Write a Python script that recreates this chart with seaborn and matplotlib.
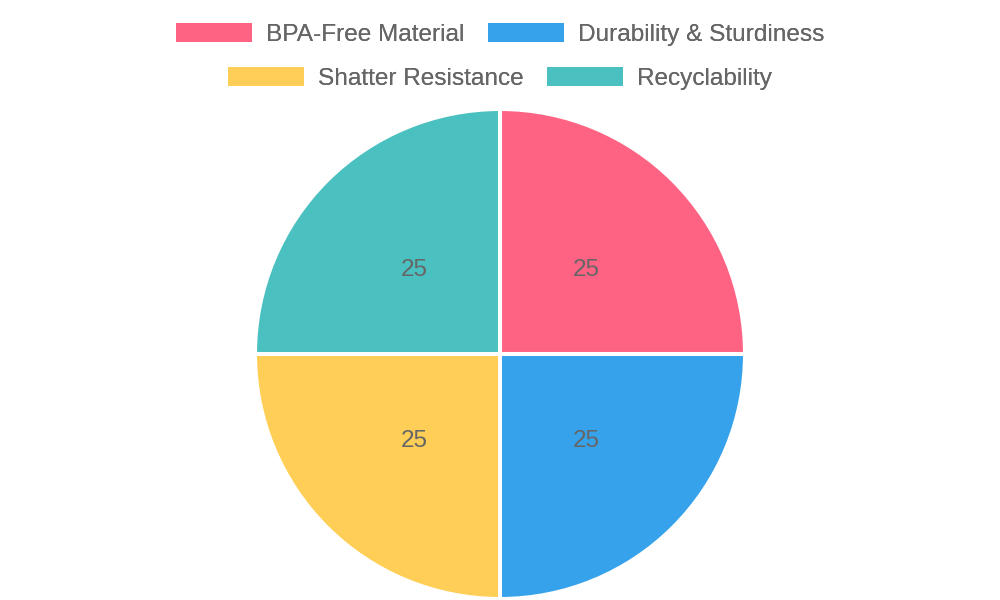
import matplotlib
matplotlib.use("Agg")
import matplotlib.pyplot as plt
import seaborn as sns
from matplotlib.patches import Patch

categories = ["BPA-Free Material", "Durability & Sturdiness", "Shatter Resistance", "Recyclability"]
values = [25, 25, 25, 25]
colors = ["#FF6384", "#36A2EB", "#FFCE56", "#4BC0C0"]

sns.set_theme(style="white")
plt.rcParams['font.family'] = ['Liberation Sans', 'DejaVu Sans']

fig = plt.figure(figsize=(10, 6), dpi=100)
ax = fig.add_axes([0, 0, 1, 1])

total = sum(values)
wedges, texts, autotexts = ax.pie(
    values, colors=colors, startangle=90, counterclock=False,
    center=(500, 246), radius=245,
    autopct=lambda p: f"{p * total / 100:.0f}", pctdistance=0.495,
    wedgeprops=dict(edgecolor="white", linewidth=2.9),
    textprops=dict(color="#666666", fontsize=17.5),
    frame=True,
)
for t in autotexts:
    x, y = t.get_position()
    t.set_position((x, y - 1.5))
ax.set_xlim(0, 1000)
ax.set_ylim(0, 600)
ax.set_aspect('equal')
ax.axis('off')

handles = [Patch(facecolor=c, edgecolor='none') for c in colors]
rows = [(0, 1), (2, 3)]
ys = [1 - 34.5 / 600, 1 - 78.5 / 600]
for (i, j), y in zip(rows, ys):
    leg = fig.legend([handles[i], handles[j]], [categories[i], categories[j]],
                     loc='center', bbox_to_anchor=(0.5, y), ncol=2, frameon=False,
                     fontsize=17.6, handlelength=3.12, handleheight=0.82,
                     handletextpad=0.57, columnspacing=0.95, borderpad=0, borderaxespad=0)
    for t in leg.get_texts():
        t.set_color("#666666")
    fig.add_artist(leg)

fig.savefig("out.png", dpi=100)
